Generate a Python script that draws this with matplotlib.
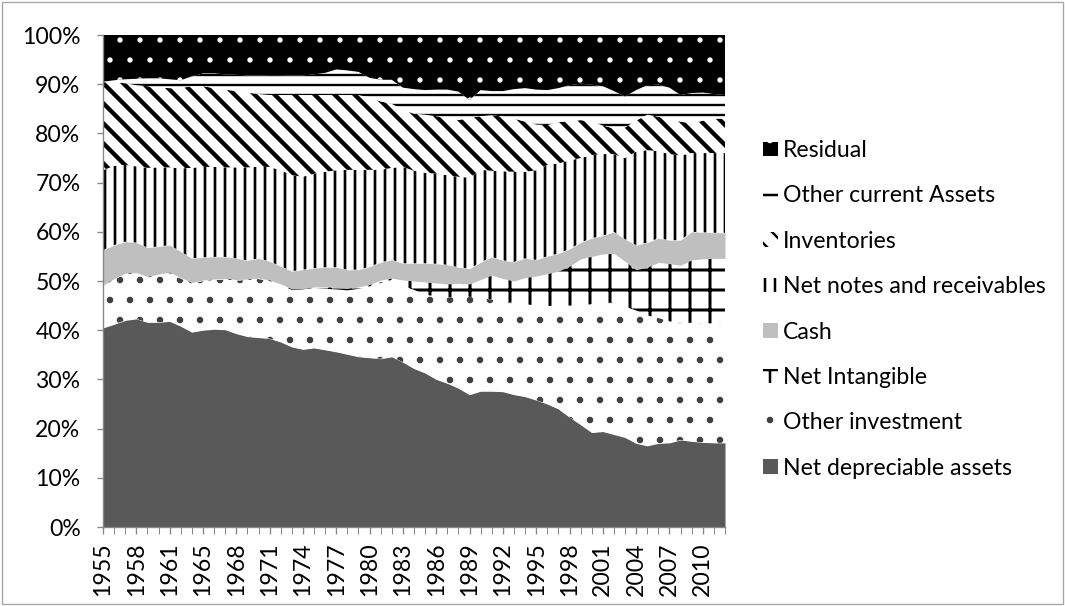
import numpy as np
import matplotlib.pyplot as plt
from matplotlib.patches import Rectangle
from matplotlib.ticker import PercentFormatter

# categories (one year is missing between 1961 and 1965 in the source)
years = [1955, 1956, 1957, 1958, 1959, 1960, 1961, 1963, 1964] + list(range(1965, 2013))

# shares in percent, bottom of the stack first
net_depreciable = [40.5, 41.2, 42.0, 42.3, 41.6, 41.6, 41.8, 40.8, 39.6, 40.0,
                   40.2, 40.1, 39.3, 38.7, 38.5, 38.3, 37.6, 36.6, 36.1, 36.4,
                   36.0, 35.6, 35.1, 34.6, 34.4, 34.2, 34.6, 33.5, 32.2, 31.3,
                   30.0, 29.2, 28.2, 26.9, 27.6, 27.6, 27.5, 26.9, 26.5, 25.8,
                   25.0, 24.0, 22.3, 20.8, 19.2, 19.4, 18.8, 18.2, 17.0, 16.5,
                   17.0, 17.1, 17.7, 17.4, 17.2, 17.1, 17.1]
other_investment = [8.5, 9.1, 9.4, 9.2, 9.1, 9.6, 9.8, 9.7, 9.9, 10.0,
                    10.0, 10.2, 10.8, 11.5, 11.9, 11.7, 11.6, 11.6, 12.2, 12.2,
                    12.4, 12.7, 13.0, 13.8, 14.5, 15.6, 15.6, 15.5, 16.0, 15.9,
                    16.9, 17.4, 18.6, 19.9, 19.0, 18.6, 18.3, 18.7, 18.8, 19.2,
                    19.9, 21.0, 22.7, 24.2, 26.1, 26.2, 27.0, 26.6, 27.0, 26.5,
                    25.5, 24.7, 23.8, 24.1, 24.2, 24.3, 24.3]
net_intangible = [0.2, 0.2, 0.2, 0.2, 0.2, 0.2, 0.2, 0.2, 0.2, 0.2,
                  0.2, 0.2, 0.2, 0.2, 0.2, 0.2, 0.2, 0.2, 0.2, 0.2,
                  0.4, 0.4, 0.4, 0.4, 0.4, 0.4, 0.4, 1.2, 1.8, 2.6,
                  2.7, 2.8, 2.7, 2.6, 3.7, 5.0, 4.7, 4.4, 5.4, 6.0,
                  6.6, 7.0, 8.0, 9.5, 9.7, 9.9, 9.8, 9.2, 8.3, 9.8,
                  11.3, 11.7, 11.7, 12.8, 13.1, 13.2, 13.2]
cash = [7.1, 6.8, 6.4, 6.1, 5.9, 5.6, 5.5, 5.3, 4.9, 4.6,
        4.5, 4.4, 4.3, 3.8, 4.0, 3.8, 3.6, 3.6, 3.8, 3.8,
        4.0, 4.1, 3.8, 3.5, 3.6, 3.6, 3.7, 3.4, 3.6, 3.8,
        3.9, 3.9, 3.3, 3.1, 3.5, 3.7, 3.7, 3.9, 3.9, 3.3,
        3.5, 3.6, 3.5, 3.3, 3.7, 3.7, 4.4, 4.5, 5.0, 5.0,
        4.9, 4.8, 5.1, 5.7, 5.4, 5.2, 5.2]
net_notes = [16.3, 16.1, 15.6, 15.5, 16.2, 16.1, 15.8, 16.9, 18.4, 18.4,
             18.3, 18.2, 18.5, 18.9, 18.6, 19.2, 19.5, 19.5, 18.9, 19.2,
             19.4, 19.7, 20.3, 20.3, 19.7, 18.8, 18.7, 19.6, 18.8, 18.4,
             18.3, 18.2, 18.4, 18.5, 18.8, 17.5, 18.1, 18.3, 17.6, 18.2,
             18.6, 18.3, 18.0, 17.2, 16.9, 16.6, 15.8, 16.5, 19.0, 18.8,
             17.7, 17.5, 17.2, 16.0, 16.1, 16.2, 16.2]
inventories = [17.9, 17.0, 16.6, 16.5, 16.6, 16.2, 16.1, 16.3, 16.6, 16.4,
               16.0, 15.8, 15.5, 15.2, 14.8, 14.6, 15.3, 16.3, 16.6, 16.0,
               15.6, 15.3, 15.2, 15.2, 14.7, 13.9, 13.0, 11.6, 11.6, 11.8,
               11.7, 11.7, 11.5, 12.2, 10.9, 11.3, 11.1, 10.8, 10.2, 9.3,
               8.1, 8.4, 8.0, 7.7, 6.8, 5.8, 5.2, 6.2, 6.3, 7.2,
               7.0, 7.0, 6.9, 6.0, 6.6, 7.0, 7.0]
other_current = [0.1, 0.4, 0.8, 1.3, 1.6, 1.9, 1.8, 1.6, 2.0, 2.6,
                 3.0, 3.1, 3.3, 3.5, 3.8, 3.9, 3.9, 4.0, 4.0, 4.2,
                 4.5, 5.2, 5.0, 4.7, 4.0, 4.4, 4.9, 4.5, 5.0, 5.0,
                 5.4, 5.7, 5.8, 3.6, 5.3, 4.9, 5.2, 6.0, 6.8, 7.1,
                 7.1, 6.9, 7.3, 7.4, 7.5, 8.0, 7.6, 6.3, 6.2, 6.0,
                 6.5, 6.5, 5.4, 6.2, 5.7, 5.0, 4.8]
residual = [9.5, 9.2, 9.0, 8.9, 8.8, 8.8, 9.0, 9.2, 8.4, 7.8,
            7.8, 8.0, 8.1, 8.2, 8.2, 8.3, 8.3, 8.2, 8.2, 8.0,
            7.7, 7.0, 7.2, 7.5, 8.7, 9.1, 9.1, 10.7, 11.0, 11.2,
            11.1, 11.1, 11.5, 13.2, 11.2, 11.4, 11.4, 11.0, 10.8, 11.1,
            11.2, 10.8, 10.2, 9.9, 10.1, 10.4, 11.4, 12.5, 11.2, 10.2,
            10.1, 10.7, 12.2, 11.8, 11.7, 12.0, 12.2]

names = ['Net depreciable assets', 'Other investment', 'Net Intangible', 'Cash',
         'Net notes and receivables', 'Inventories', 'Other current Assets', 'Residual']

# look of each layer: face, hatch, hatch colour, hatch width
faces = ['#595959', 'white', 'white', '#BFBFBF', 'white', 'white', 'white', 'black']
hatches = [None, '.', '+', None, '||', '\\\\', '--', '.']
hatch_colors = ['#595959', '#404040', 'black', '#BFBFBF', 'black', 'black', 'black', 'white']
hatch_widths = [1.0, 1.5, 1.8, 1.0, 1.6, 2.6, 1.4, 0.8]

plt.rcParams['font.family'] = ['Lato', 'DejaVu Sans']
plt.rcParams['hatch.linewidth'] = 1.5

W, H, DPI = 1065, 606, 120
fig = plt.figure(figsize=(W / DPI, H / DPI), dpi=DPI)
ax = fig.add_axes([103 / W, 1 - 527 / H, 622 / W, 492 / H])

x = np.arange(len(years))
vals = np.array([net_depreciable, other_investment, net_intangible, cash,
                 net_notes, inventories, other_current, residual])
pct = vals / vals.sum(axis=0) * 100  # 100% stacked

layers = ax.stackplot(x, pct, colors=faces, labels=names)
for poly, h, hc, hw in zip(layers, hatches, hatch_colors, hatch_widths):
    poly.set_edgecolor(hc)
    poly.set_linewidth(0)
    if h:
        poly.set_hatch(h)
    if hasattr(poly, 'set_hatch_linewidth'):
        poly.set_hatch_linewidth(hw)

ax.set_xlim(0, len(years) - 1)
ax.set_ylim(0, 100)
ax.set_yticks(np.arange(0, 101, 10))
ax.yaxis.set_major_formatter(PercentFormatter(decimals=0))
ax.set_xticks(x[::3])
ax.set_xticklabels([str(y) for y in years[::3]], rotation=90)
ax.set_xticks(x, minor=True)

grey = '#868686'
for s in ['top', 'right']:
    ax.spines[s].set_visible(False)
for s in ['left', 'bottom']:
    ax.spines[s].set_color(grey)
    ax.spines[s].set_linewidth(0.8)
fs = 13.8
ax.tick_params(axis='y', length=3.5, color=grey, pad=10, labelsize=fs)
ax.tick_params(axis='x', which='both', length=4.2, color=grey, pad=5, labelsize=fs)

fig.legend(layers[::-1], names[::-1], loc='upper left',
           bbox_to_anchor=(763 / W, 1 - 140 / H), frameon=False,
           fontsize=fs, handlelength=0.66, handleheight=0.58,
           handletextpad=0.22, labelspacing=1.06, borderpad=0, borderaxespad=0)

fig.add_artist(Rectangle((2 / W, 2 / H), 1 - 4 / W, 1 - 4 / H, transform=fig.transFigure,
                         fill=False, edgecolor='#A6A6A6', linewidth=0.8))

fig.savefig('out.png', dpi=DPI)
